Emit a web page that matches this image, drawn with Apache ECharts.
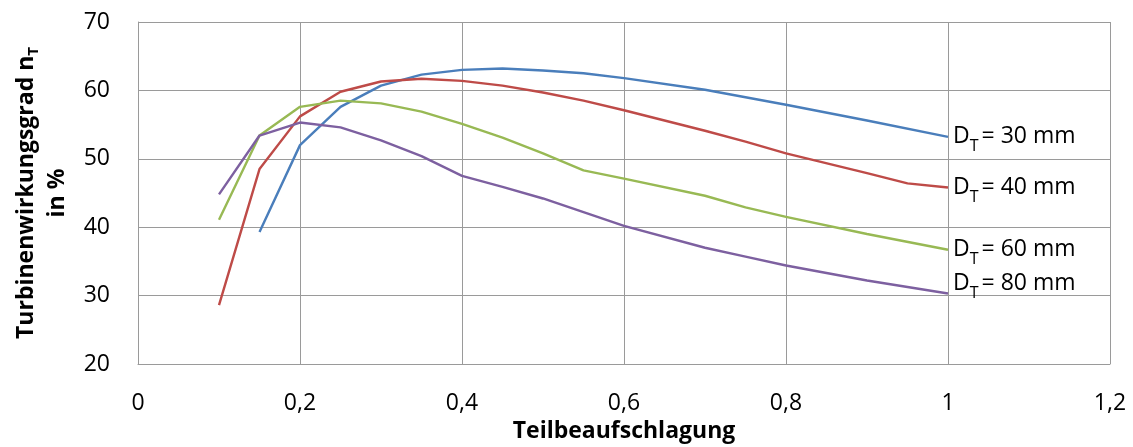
<!DOCTYPE html>
<html>
<head>
<meta charset="utf-8">
<script src="https://cdn.jsdelivr.net/npm/echarts@6/dist/echarts.min.js"></script>
<style>
  html, body { margin: 0; padding: 0; background: #fff; }
  #chart { width: 1133px; height: 447px; }
</style>
</head>
<body>
<div id="chart"></div>
<script>
// Turbine efficiency vs. partial admission for four turbine diameters
const diameters = [30, 40, 60, 80];

const load30 = [0.15, 0.2, 0.25, 0.3, 0.35, 0.4, 0.45, 0.5, 0.55, 0.6, 0.7, 0.8, 0.9, 1.0];
const eff30  = [39.3, 52.0, 57.6, 60.7, 62.3, 63.0, 63.2, 62.9, 62.5, 61.8, 60.1, 57.9, 55.6, 53.2];

const load40 = [0.1, 0.15, 0.2, 0.25, 0.3, 0.35, 0.4, 0.45, 0.5, 0.55, 0.6, 0.7, 0.75, 0.8, 0.9, 0.95, 1.0];
const eff40  = [28.6, 48.5, 56.2, 59.8, 61.3, 61.7, 61.4, 60.7, 59.7, 58.5, 57.1, 54.1, 52.5, 50.8, 47.9, 46.4, 45.8];

const load60 = [0.1, 0.15, 0.2, 0.25, 0.3, 0.35, 0.4, 0.45, 0.5, 0.55, 0.6, 0.7, 0.75, 0.8, 0.9, 1.0];
const eff60  = [41.1, 53.4, 57.6, 58.5, 58.1, 56.9, 55.1, 53.1, 50.8, 48.3, 47.1, 44.6, 42.9, 41.5, 39.0, 36.7];

const load80 = [0.1, 0.15, 0.2, 0.25, 0.3, 0.35, 0.4, 0.45, 0.5, 0.55, 0.6, 0.7, 0.75, 0.8, 0.9, 1.0];
const eff80  = [44.8, 53.4, 55.3, 54.6, 52.7, 50.4, 47.5, 45.9, 44.2, 42.2, 40.2, 37.0, 35.7, 34.4, 32.2, 30.3];

const loads = [load30, load40, load60, load80];
const effs = [eff30, eff40, eff60, eff80];
const colors = ['#4A7EBB', '#BE4B48', '#98B954', '#7D60A0'];
const labelShift = [0, 0, 0, -10];

const FONT = '"Open Sans", "Noto Sans", sans-serif';

const chart = echarts.init(document.getElementById('chart'), null, { renderer: 'canvas' });

const series = diameters.map((d, i) => ({
  type: 'line',
  name: 'D_T = ' + d + ' mm',
  data: loads[i].map((x, k) => [x, effs[i][k]]),
  showSymbol: false,
  symbol: 'none',
  lineStyle: { color: colors[i], width: 2.4 },
  itemStyle: { color: colors[i] },
  animation: false,
  endLabel: {
    show: true,
    distance: 5,
    offset: [0, labelShift[i]],
    formatter: '{d|D}{s|T}{d|= ' + d + ' mm}',
    rich: {
      d: { fontFamily: FONT, fontSize: 23, color: '#000', lineHeight: 34 },
      s: { fontFamily: FONT, fontSize: 16, color: '#000', lineHeight: 16, padding: [20, 3, 0, 0] }
    }
  }
}));

chart.setOption({
  backgroundColor: '#fff',
  animation: false,
  grid: { left: 138, right: 23, top: 22, bottom: 83, containLabel: false, outerBoundsMode: 'none' },
  xAxis: {
    type: 'value',
    min: 0, max: 1.2, interval: 0.2,
    name: 'Teilbeaufschlagung',
    nameLocation: 'middle',
    nameGap: 46,
    nameTextStyle: { fontFamily: FONT, fontSize: 23, fontWeight: 'bold', color: '#000' },
    axisLine: { show: true, lineStyle: { color: '#9a9a9a', width: 1 } },
    axisTick: { show: false },
    splitLine: { show: true, lineStyle: { color: '#9a9a9a', width: 1 } },
    axisLabel: {
      fontFamily: FONT, fontSize: 23, color: '#000', margin: 28,
      formatter: v => String(Math.round(v * 10) / 10).replace('.', ',')
    }
  },
  yAxis: {
    type: 'value',
    min: 20, max: 70, interval: 10,
    name: '{b|Turbinenwirkungsgrad n}{s|T}\n{b|in %}',
    nameLocation: 'middle',
    nameRotate: 90,
    nameGap: 65,
    nameTextStyle: {
      align: 'center',
      rich: {
        b: { fontFamily: FONT, fontSize: 23, fontWeight: 'bold', color: '#000', lineHeight: 31 },
        s: { fontFamily: FONT, fontSize: 15, fontWeight: 'bold', color: '#000', lineHeight: 15, padding: [14, 0, 0, 0] }
      }
    },
    axisLine: { show: true, lineStyle: { color: '#9a9a9a', width: 1 } },
    axisTick: { show: false },
    splitLine: { show: true, lineStyle: { color: '#9a9a9a', width: 1 } },
    axisLabel: { fontFamily: FONT, fontSize: 23, color: '#000', margin: 28 }
  },
  series: series
});
</script>
</body>
</html>
